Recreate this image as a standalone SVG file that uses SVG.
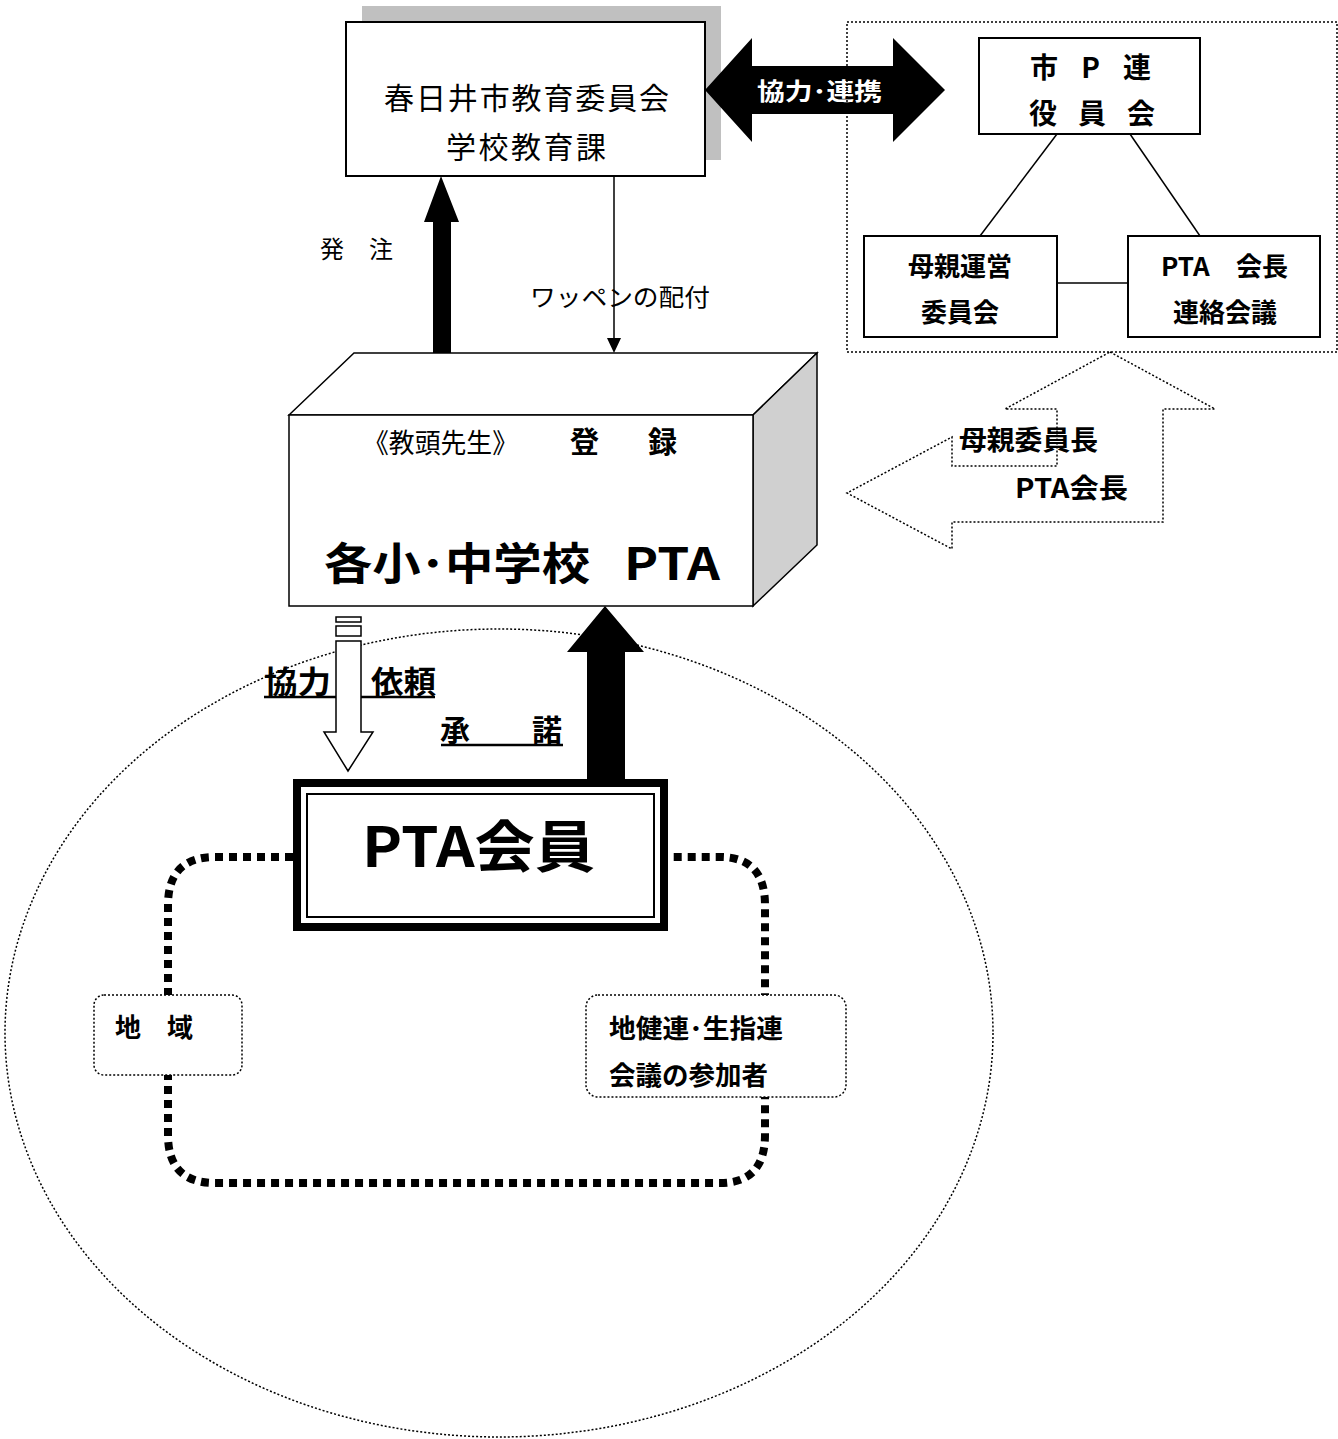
<svg xmlns="http://www.w3.org/2000/svg" width="1338" height="1439" viewBox="0 0 1338 1439">
<defs>
<style>
text{font-family:"Noto Sans CJK JP","Liberation Sans",sans-serif;fill:#000}
.r{font-weight:400}
.b{font-weight:700}
.box{fill:#fff;stroke:#000;stroke-width:2}
.dot{fill:none;stroke:#000;stroke-width:1.5;stroke-dasharray:2 2}
.dotw{fill:#fff;stroke:#000;stroke-width:1.5;stroke-dasharray:2 2}
.line{stroke:#000;stroke-width:1.5;fill:none}
</style>
</defs>
<rect width="1338" height="1439" fill="#fff"/>

<!-- background ellipse -->
<ellipse id="member-area" cx="499" cy="1033" rx="494" ry="404" class="dot"/>

<!-- 教育委員会 -->
<g id="board">
  <rect x="362" y="6" width="359" height="154" fill="#c0c0c0"/>
  <rect x="346" y="22" width="359" height="154" class="box"/>
  <text x="384" y="109" font-size="30" class="r" textLength="285" lengthAdjust="spacing">春日井市教育委員会</text>
  <text x="446" y="158" font-size="30" class="r" textLength="160" lengthAdjust="spacing">学校教育課</text>
</g>

<g id="connectors">
  <!-- double arrow 協力・連携 -->
  <polygon points="705,90 752,38 752,66 893,66 893,38 945,90 893,142 893,114 752,114 752,142" fill="#000"/>
  <!-- 発注 arrow -->
  <polygon points="433,353 433,222 424,222 441,176 459,222 451,222 451,353" fill="#000"/>
  <!-- ワッペン line -->
  <line x1="614" y1="176" x2="614" y2="340" class="line"/>
  <polygon points="607,338 621,338 614,353" fill="#000"/>
  <!-- 市P連 lines -->
  <line x1="1057" y1="134" x2="980" y2="236" class="line"/>
  <line x1="1130" y1="134" x2="1200" y2="236" class="line"/>
  <line x1="1057" y1="283" x2="1128" y2="283" class="line"/>
  <!-- dotted bent arrow -->
  <polygon points="1110,352 1215,409 1163,409 1163,522 952,522 952,549 847,493 952,437 952,466 1057,466 1057,409 1005,409" fill="none" stroke="#000" stroke-width="1.5" stroke-dasharray="2 2"/>
  <!-- 協力依頼 hollow arrow -->
  <rect x="336" y="617" width="25" height="5" fill="#fff" stroke="#000" stroke-width="1.5"/>
  <rect x="336" y="626" width="25" height="10" fill="#fff" stroke="#000" stroke-width="1.5"/>
  <line x1="264" y1="697" x2="435" y2="697" stroke="#000" stroke-width="2.5"/>
  <polygon points="336,641 361,641 361,732 373,732 348,771 324,732 336,732" fill="#fff" stroke="#000" stroke-width="1.5"/>
  <!-- 承諾 arrow -->
  <polygon points="587,785 587,652 567,652 605,606 644,652 625,652 625,785" fill="#000"/>
  <!-- thick dotted loop -->
  <path d="M293,857 H215 Q168,857 168,905 V1135 Q168,1183 215,1183 H720 Q765,1183 765,1135 V905 Q765,857 720,857 H668" fill="none" stroke="#000" stroke-width="8" stroke-dasharray="8 6"/>
</g>
<text id="label-kyoryoku" x="757" y="100" font-size="24" class="b" style="fill:#fff" textLength="125" lengthAdjust="spacingAndGlyphs">協力･連携</text>

<!-- 市P連 group -->
<g id="shiP-group">
  <rect x="847" y="22" width="490" height="330" class="dot"/>
  <g id="shiP">
    <rect x="979" y="38" width="221" height="96" class="box"/>
    <text x="1030" y="78" font-size="28" class="b" textLength="121" lengthAdjust="spacing">市 P 連</text>
    <text x="1029" y="124" font-size="28" class="b" textLength="126" lengthAdjust="spacing">役 員 会</text>
  </g>
  <g id="hahaoya">
    <rect x="864" y="236" width="193" height="101" class="box"/>
    <text x="960" y="276" font-size="26" class="b" text-anchor="middle">母親運営</text>
    <text x="960" y="322" font-size="26" class="b" text-anchor="middle">委員会</text>
  </g>
  <g id="kaicho">
    <rect x="1128" y="236" width="192" height="101" class="box"/>
    <text x="1161" y="276" font-size="26" class="b">PTA</text>
    <text x="1236" y="276" font-size="26" class="b">会長</text>
    <text x="1225" y="322" font-size="26" class="b" text-anchor="middle">連絡会議</text>
  </g>
</g>
<text x="959" y="450" font-size="27" class="b" textLength="139" lengthAdjust="spacingAndGlyphs">母親委員長</text>
<text x="1015" y="498" font-size="27" class="b" textLength="113" lengthAdjust="spacingAndGlyphs">PTA会長</text>

<!-- labels -->
<text x="320" y="258" font-size="24" class="r" textLength="73" lengthAdjust="spacing">発 注</text>
<text x="530" y="306" font-size="24" class="r" textLength="180" lengthAdjust="spacingAndGlyphs">ワッペンの配付</text>

<!-- 3D box -->
<g id="school-pta">
  <polygon points="289,415 354,353 817,353 753,415" fill="#fff" stroke="#000" stroke-width="1.5"/>
  <polygon points="753,415 817,353 817,545 753,606" fill="#d0d0d0" stroke="#000" stroke-width="1.5"/>
  <rect x="289" y="415" width="464" height="191" fill="#fff" stroke="#000" stroke-width="1.5"/>
  <text x="363" y="453" font-size="27" class="r" textLength="155" lengthAdjust="spacingAndGlyphs">《教頭先生》</text>
  <text x="570" y="453" font-size="29" class="b">登</text>
  <text x="648" y="453" font-size="29" class="b">録</text>
  <text x="324" y="580" font-size="44" class="b" textLength="266" lengthAdjust="spacingAndGlyphs">各小･中学校</text>
  <text x="624" y="580" font-size="44" class="b" textLength="96" lengthAdjust="spacingAndGlyphs">PTA</text>
</g>

<text x="264" y="693" font-size="31" class="b" textLength="67" lengthAdjust="spacingAndGlyphs">協力</text>
<text x="371" y="693" font-size="31" class="b" textLength="65" lengthAdjust="spacingAndGlyphs">依頼</text>
<text x="440" y="741" font-size="30" class="b">承</text>
<text x="532" y="741" font-size="30" class="b">諾</text>
<line x1="441" y1="745" x2="563" y2="745" stroke="#000" stroke-width="2.5"/>

<!-- PTA会員 -->
<g id="pta-member">
  <rect x="297" y="783" width="367" height="144" fill="#fff" stroke="#000" stroke-width="8"/>
  <rect x="307" y="794" width="347" height="123" fill="none" stroke="#000" stroke-width="2"/>
  <text x="362" y="867" font-size="56" class="b" textLength="233" lengthAdjust="spacingAndGlyphs">PTA会員</text>
</g>

<g id="chiiki">
  <rect x="94" y="995" width="148" height="80" rx="10" class="dotw"/>
  <text x="115" y="1037" font-size="26" class="b" textLength="78" lengthAdjust="spacing">地　域</text>
</g>
<g id="chikenren">
  <rect x="586" y="995" width="260" height="102" rx="12" class="dotw"/>
  <text x="609" y="1038" font-size="26" class="b" textLength="174" lengthAdjust="spacingAndGlyphs">地健連･生指連</text>
  <text x="609" y="1085" font-size="26" class="b" textLength="159" lengthAdjust="spacingAndGlyphs">会議の参加者</text>
</g>
</svg>
